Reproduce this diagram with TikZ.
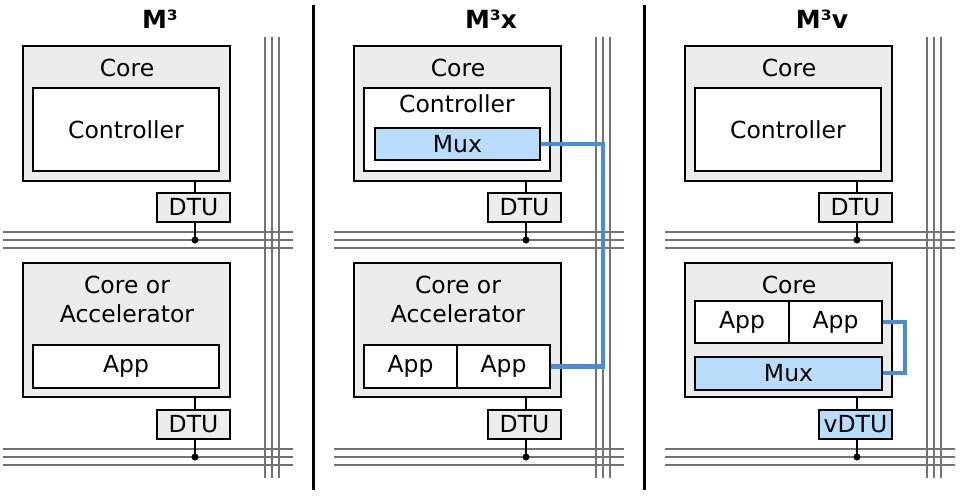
\documentclass[tikz,border=0pt]{standalone}
\usepackage{fontspec}
\setmainfont{DejaVu Sans}
\definecolor{muxfill}{HTML}{B9DCFB}
\definecolor{linkc}{HTML}{4A8CD6}
\begin{document}
\begin{tikzpicture}[x=1pt,y=-1pt,
  box/.style={draw=black,line width=2pt},
  outer/.style={box,fill=gray!15},
  inner/.style={box,fill=white},
  blue/.style={box,fill=muxfill},
  bus/.style={draw=gray!90!black,line width=1.8pt},
  link/.style={draw=linkc,line width=4.5pt},
  txt/.style={font=\fontsize{23.5}{27}\selectfont,inner sep=0pt},
  ttl/.style={font=\fontsize{25}{29}\selectfont\bfseries,inner sep=0pt}]
\useasboundingbox (0,0) rectangle (960,498);
\draw[line width=3pt] (313,5) -- (313,490);
\draw[line width=3pt] (644,5) -- (644,490);
\foreach \o/\t/\n in {0/M³/a,331/M³x/b,662/M³v/c}{
  \begin{scope}[xshift=\o]
  \node[ttl] (t\n) at (160,19) {\t};
  \foreach \yy in {232,240,248,449,457,465} \draw[bus] (3,\yy) -- (293,\yy);
  \foreach \xx in {265,272,279} \draw[bus] (\xx,37) -- (\xx,478);
  \draw[outer] (23,46) rectangle (230,181);
  \node[txt] (core\n) at (127,68) {Core};
  \draw[outer] (23,263) rectangle (230,397);
  \draw[line width=1.2pt] (195,181) -- (195,240); \fill (195,240) circle (3.5);
  \draw[line width=1.2pt] (195,397) -- (195,457); \fill (195,457) circle (3.5);
  \node[txt,box,fill=gray!15,minimum width=73pt,minimum height=29pt,inner sep=0pt] (dtu\n) at (193.5,207) {DTU};
  \end{scope}}
% panel 1
\draw[inner] (33,88) rectangle (219,171); \node[txt] (ctla) at (126,130) {Controller};
\node[txt,align=center] (cora) at (127,299) {Core or\\[2pt]Accelerator};
\draw[inner] (33,345) rectangle (219,388); \node[txt] (appa) at (126,366) {App};
\node[txt,box,fill=gray!15,minimum width=73pt,minimum height=29pt] (dtua2) at (193.5,424) {DTU};
% panel 2
\draw[inner] (364,88) rectangle (550,171); \node[txt] (ctlb) at (457,104) {Controller};
\node[blue,txt,minimum width=165pt,minimum height=32pt] (mux) at (457.5,144) {Mux};
\node[txt,align=center] (corb) at (458,299) {Core or\\[2pt]Accelerator};
\node[inner,txt,minimum width=93pt,minimum height=43pt] (app1) at (410.5,366.5) {App};
\node[inner,txt,minimum width=93pt,minimum height=43pt] (app2) at (503.5,366.5) {App};
\node[txt,box,fill=gray!15,minimum width=73pt,minimum height=29pt] (dtub2) at (524.5,424) {DTU};
\draw[link] (mux.east) -| (603,366.5) -- (app2.east);
% panel 3
\draw[inner] (695,88) rectangle (881,171); \node[txt] (ctlc) at (788,130) {Controller};
\node[txt] (corc) at (789,285) {Core};
\node[inner,txt,minimum width=94pt,minimum height=42pt] (app3) at (742,322) {App};
\node[inner,txt,minimum width=93pt,minimum height=42pt] (app4) at (835.5,322) {App};
\node[blue,txt,minimum width=187pt,minimum height=33pt] (muxc) at (788.5,373) {Mux};
\node[txt,blue,minimum width=73pt,minimum height=29pt] (vdtu) at (855.5,424) {vDTU};
\draw[link] (app4.east) -- (905,322) |- (muxc.east);
\end{tikzpicture}
\end{document}
